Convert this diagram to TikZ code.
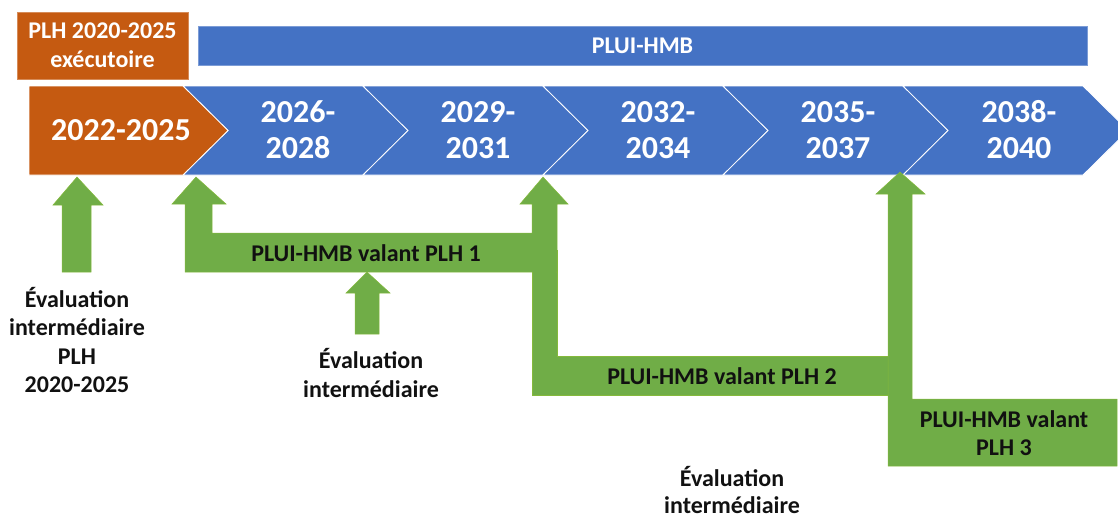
\documentclass[tikz,border=0pt]{standalone}
\usepackage{fontspec}
\setmainfont{Carlito}
\definecolor{plhorange}{HTML}{C55A11}
\definecolor{plublue}{HTML}{4472C4}
\definecolor{plgreen}{HTML}{70AD47}
\definecolor{darktext}{HTML}{111111}
\tikzset{
  orangebox/.style={fill=plhorange, draw=plhorange!70!white, line width=0.6pt},
  bluebar/.style={fill=plublue, draw=plublue!70!white, line width=0.6pt},
  chevshape/.style={fill=plublue, draw=white, line width=0.8pt},
  orangechev/.style={fill=plhorange, draw=white, line width=0.8pt},
  greenshape/.style={fill=plgreen, draw=plgreen!85!yellow, line width=0.5pt},
  yeartext/.style={text=white, font=\fontsize{32}{36}\selectfont\bfseries, align=center, inner sep=0pt},
  whitelabel/.style={text=white, font=\fontsize{24}{29}\selectfont\bfseries, align=center, inner sep=0pt},
  darklabel/.style={text=darktext, font=\fontsize{24}{28.5}\selectfont\bfseries, align=center, inner sep=0pt}
}
\begin{document}
\begin{tikzpicture}[x=1pt,y=-1pt]
\useasboundingbox (0,0) rectangle (1118,519);
\clip (0,0) rectangle (1118,519);
% top boxes
\draw[orangebox] (17,12) rectangle (188,79);
\node[whitelabel] (plhexec) at (102.5,45.5) {PLH 2020-2025\\exécutoire};
\draw[bluebar] (198,26) rectangle (1087,65);
\node[whitelabel] (pluibar) at (642.5,45.5) {PLUI-HMB};
% chevrons
\foreach \i in {0,...,4}{
  \pgfmathsetmacro{\xl}{183+180*\i}
  \draw[chevshape] (\xl,86) -- (\xl+180,86) -- (\xl+225,130.5) -- (\xl+180,175) -- (\xl,175) -- (\xl+45,130.5) -- cycle;
}
\draw[orangechev] (29,86) -- (183,86) -- (228,130.5) -- (183,175) -- (29,175) -- cycle;
\node[yeartext] (c1) at (121,130) {2022-2025};
\node[yeartext] (c2) at (298,130) {2026-\\2028};
\node[yeartext] (c3) at (478,130) {2029-\\2031};
\node[yeartext] (c4) at (658,130) {2032-\\2034};
\node[yeartext] (c5) at (838,130) {2035-\\2037};
\node[yeartext] (c6) at (1019,130) {2038-\\2040};
% green arrows
\draw[greenshape] (62,272) -- (62,205) -- (53,205) -- (77,177) -- (103,205) -- (91,205) -- (91,272) -- cycle;
\draw[greenshape] (532,250) -- (557,250) -- (557,356) -- (888,356) -- (888,395) -- (532,395) -- cycle;
\draw[greenshape] (185,272) -- (185,204) -- (172,204) -- (196,177) -- (226,204) -- (212,204) -- (212,233)
  -- (532,233) -- (532,204) -- (520,204) -- (543,177) -- (568,204) -- (557,204) -- (557,272) -- cycle;
\fill[plgreen] (533,260) rectangle (556,360);
\draw[greenshape] (888,466) -- (888,194) -- (876,194) -- (900,172) -- (925,194) -- (912,194) -- (912,399)
  -- (1117,399) -- (1117,466) -- cycle;
\draw[greenshape] (355,334) -- (355,293) -- (346,293) -- (367,272) -- (390,293) -- (379,293) -- (379,334) -- cycle;
% green labels
\node[darklabel] (plh1) at (366,253) {PLUI-HMB valant PLH 1};
\node[darklabel] (plh2) at (722,376) {PLUI-HMB valant PLH 2};
\node[darklabel] (plh3) at (1004,433) {PLUI-HMB valant\\PLH 3};
% evaluation labels
\node[darklabel] (ev0) at (77,340) {Évaluation\\intermédiaire\\PLH\\2020-2025};
\node[darklabel] (ev1) at (371,373) {Évaluation\\intermédiaire};
\node[darklabel, font=\fontsize{24}{27}\selectfont\bfseries] (ev2) at (732,490) {Évaluation\\intermédiaire};
\end{tikzpicture}
\end{document}
